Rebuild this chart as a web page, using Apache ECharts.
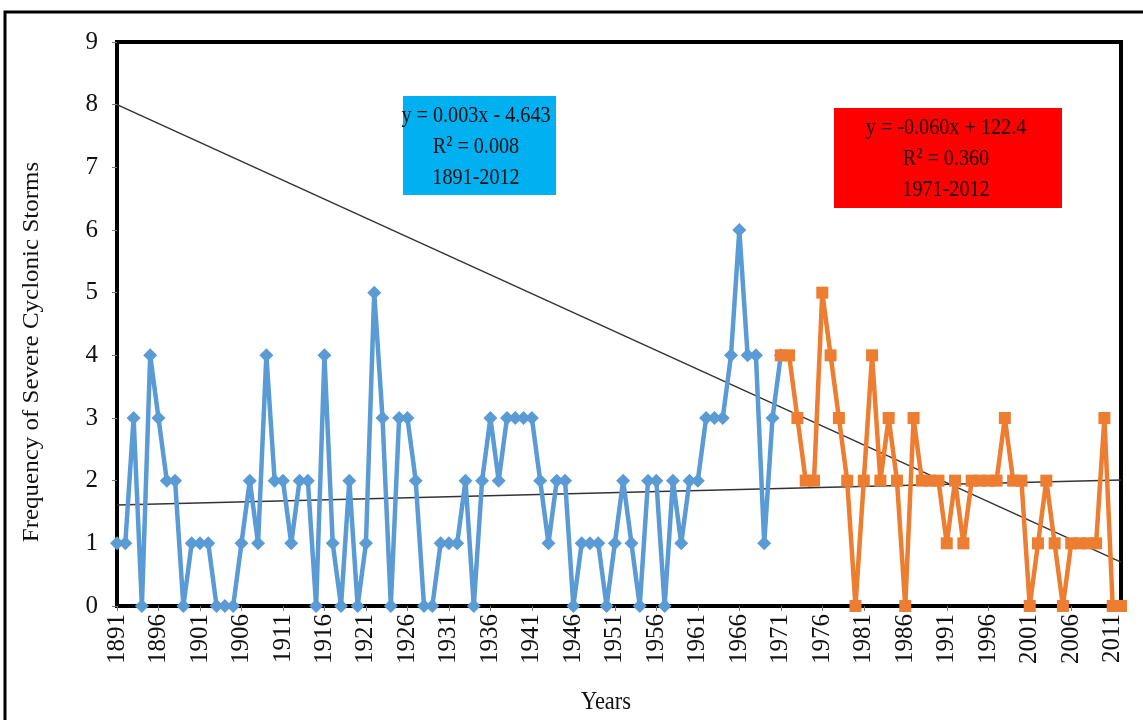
<!DOCTYPE html>
<html>
<head>
<meta charset="utf-8">
<script src="https://cdn.jsdelivr.net/npm/echarts@6/dist/echarts.min.js"></script>
<style>
html,body{margin:0;padding:0;background:#fff;}
#chart{width:1143px;height:720px;}
</style>
</head>
<body>
<div id="chart"></div>
<script>
// Years 1891..2012
const years = [];
for (let y = 1891; y <= 2012; y++) years.push(String(y));

// Blue series: 1891-1971
const blueValues = [
  1,1,3,0,4,3,2,2,0,1,
  1,1,0,0,0,1,2,1,4,2,
  2,1,2,2,0,4,1,0,2,0,
  1,5,3,0,3,3,2,0,0,1,
  1,1,2,0,2,3,2,3,3,3,
  3,2,1,2,2,0,1,1,1,0,
  1,2,1,0,2,2,0,2,1,2,
  2,3,3,3,4,6,4,4,1,3,4
];
// Orange series: 1971-2012
const orangeValues = [
  4,4,3,2,2,5,4,3,2,0,
  2,4,2,3,2,0,3,2,2,2,
  1,2,1,2,2,2,2,3,2,2,
  0,1,2,1,0,1,1,1,1,3,
  0,0
];
// Trend lines (start/end as drawn)
const trendAll = [['1891', 1.61], ['2012', 2.01]];
const trendRecent = [['1891', 8.0], ['2012', 0.70]];

const blueBox = ['y = 0.003x - 4.643', 'R² = 0.008', '1891-2012'];
const redBox = ['y = -0.060x + 122.4', 'R² = 0.360', '1971-2012'];
const xTitle = 'Years';
const yTitle = 'Frequency of Severe Cyclonic Storms';

const blueData = years.map((y, i) => i < blueValues.length ? blueValues[i] : null);
const orangeStart = years.indexOf('1971');
const orangeData = years.map((y, i) => i >= orangeStart ? orangeValues[i - orangeStart] : null);

const FONT = '"Liberation Serif", "Times New Roman", serif';
const chart = echarts.init(document.getElementById('chart'));
chart.setOption({
  animation: false,
  backgroundColor: '#fff',
  grid: { left: 117, top: 42, right: 22, bottom: 114, show: true, borderColor: '#000', borderWidth: 4, containLabel: false },
  xAxis: {
    type: 'category',
    data: years,
    boundaryGap: false,
    axisLine: { show: true, lineStyle: { color: '#000', width: 4 } },
    axisTick: { show: true, interval: 4, length: 5, lineStyle: { color: '#777' } },
    axisLabel: { interval: 4, rotate: 90, fontFamily: FONT, fontSize: 25, color: '#111', margin: 8 },
    splitLine: { show: false }
  },
  yAxis: {
    type: 'value',
    min: 0, max: 9, interval: 1,
    axisLine: { show: true, lineStyle: { color: '#000', width: 4 } },
    axisTick: { show: true, length: 5, lineStyle: { color: '#777' } },
    axisLabel: { fontFamily: FONT, fontSize: 25, color: '#111', margin: 19 },
    splitLine: { show: false }
  },
  series: [
    {
      name: 'trend1891', type: 'line', data: trendAll, symbol: 'none',
      lineStyle: { color: '#333', width: 1.5 }, z: 1, silent: true
    },
    {
      name: 'trend1971', type: 'line', data: trendRecent, symbol: 'none',
      lineStyle: { color: '#333', width: 1.5 }, z: 1, silent: true
    },
    {
      name: '1891-1971', type: 'line', data: blueData,
      symbol: 'diamond', symbolSize: 14, showAllSymbol: true,
      itemStyle: { color: '#5B9BD5' },
      lineStyle: { color: '#5B9BD5', width: 4.5 }, z: 3
    },
    {
      name: '1971-2012', type: 'line', data: orangeData,
      symbol: 'rect', symbolSize: 12, showAllSymbol: true,
      itemStyle: { color: '#ED7D31' },
      lineStyle: { color: '#ED7D31', width: 4.5 }, z: 4
    }
  ],
  graphic: [
    { type: 'rect', shape: { x: 5, y: 12, width: 1150, height: 720 }, style: { fill: 'none', stroke: '#000', lineWidth: 3 }, z: 100, silent: true },
    { type: 'rect', shape: { x: 403, y: 96, width: 153, height: 99 }, style: { fill: '#00B0F0' }, z: 50 },
    { type: 'text', x: 476, y: 147, scaleX: 0.84, style: { text: blueBox.join('\n'), fontFamily: FONT, fontSize: 24, lineHeight: 31, fill: '#111', align: 'center', verticalAlign: 'middle' }, z: 51 },
    { type: 'rect', shape: { x: 834, y: 108, width: 228, height: 100 }, style: { fill: '#FF0000' }, z: 50 },
    { type: 'text', x: 946, y: 159, scaleX: 0.84, style: { text: redBox.join('\n'), fontFamily: FONT, fontSize: 24, lineHeight: 31, fill: '#220000', align: 'center', verticalAlign: 'middle' }, z: 51 },
    { type: 'text', x: 606, y: 702, scaleX: 0.9, style: { text: xTitle, fontFamily: FONT, fontSize: 25, fill: '#111', align: 'center', verticalAlign: 'middle' }, z: 51 },
    { type: 'text', x: 32, y: 352, rotation: Math.PI / 2, scaleY: 0.9, style: { text: yTitle, fontFamily: FONT, fontSize: 25, fill: '#111', align: 'center', verticalAlign: 'middle' }, z: 51 }
  ]
});
</script>
</body>
</html>
